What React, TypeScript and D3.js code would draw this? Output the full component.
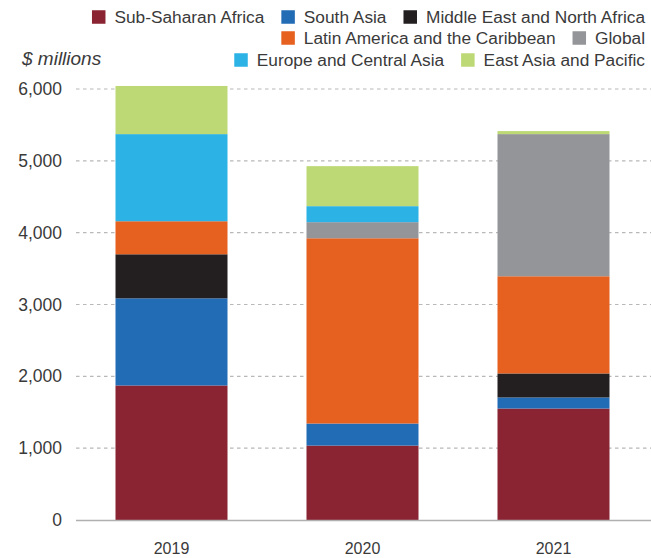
import React, { useEffect, useRef } from "react";
import * as d3 from "d3";

const years = ["2019", "2020", "2021"];
const regions = [
  "Sub-Saharan Africa",
  "South Asia",
  "Middle East and North Africa",
  "Latin America and the Caribbean",
  "Global",
  "Europe and Central Asia",
  "East Asia and Pacific",
];
const colors = ["#8A2332", "#226BB5", "#231F20", "#E66020", "#949598", "#2DB2E6", "#BDD975"];
const subSaharanAfrica = [1873, 1036, 1552];
const southAsia = [1213, 307, 154];
const middleEastNorthAfrica = [613, 0, 334];
const latinAmericaCaribbean = [460, 2579, 1353];
const global = [0, 224, 1979];
const europeCentralAsia = [1213, 223, 0];
const eastAsiaPacific = [670, 557, 42];
const yTicks = [0, 1000, 2000, 3000, 4000, 5000, 6000];
const legendRows = [[0, 1, 2], [3, 4], [5, 6]];
const yLabel = "$ millions";

export default function App() {
  const ref = useRef<SVGSVGElement>(null);
  useEffect(() => {
    document.body.style.margin = "0";
    const svg = d3.select(ref.current);
    svg.selectAll("*").remove();
    const W = 651;
    const font = "'Liberation Sans', Arial, Helvetica, sans-serif";
    const textColor = "#3a3a3a";
    const series = [subSaharanAfrica, southAsia, middleEastNorthAfrica, latinAmericaCaribbean, global, europeCentralAsia, eastAsiaPacific];
    const table = years.map((y, i) => {
      const row: any = { year: y };
      regions.forEach((r, k) => (row[r] = series[k][i]));
      return row;
    });
    const x = d3.scaleBand().domain(years).range([76, 649]).paddingInner(0.4136).paddingOuter(0.2068);
    const y = d3.scaleLinear().domain([0, 6000]).range([520, 89]);

    // grid
    const g = svg.append("g");
    g.selectAll("line.grid")
      .data(yTicks.filter((t) => t > 0))
      .join("line")
      .attr("x1", 76).attr("x2", W)
      .attr("y1", (d) => y(d)).attr("y2", (d) => y(d))
      .attr("stroke", "#b8b8b8").attr("stroke-width", 1.2)
      .attr("stroke-dasharray", "3.5,3.5");
    g.selectAll("text.tick")
      .data(yTicks)
      .join("text")
      .attr("x", 62).attr("y", (d) => y(d) + 6)
      .attr("text-anchor", "end")
      .attr("font-family", font).attr("font-size", 17.5).attr("fill", textColor)
      .text((d) => d3.format(",")(d));

    // bars
    const stack = d3.stack<any>().keys(regions)(table);
    svg.append("g").selectAll("g")
      .data(stack)
      .join("g")
      .attr("fill", (_d, i) => colors[i])
      .selectAll("rect")
      .data((d) => d)
      .join("rect")
      .attr("x", (d) => x(d.data.year)!)
      .attr("width", x.bandwidth())
      .attr("y", (d) => y(d[1]))
      .attr("height", (d) => Math.max(0, y(d[0]) - y(d[1])));

    // zero line
    svg.append("line")
      .attr("x1", 76).attr("x2", W).attr("y1", y(0) + 0.5).attr("y2", y(0) + 0.5)
      .attr("stroke", "#b0b0b0").attr("stroke-width", 1.5);

    // x labels
    svg.append("g").selectAll("text")
      .data(years)
      .join("text")
      .attr("x", (d) => x(d)! + x.bandwidth() / 2)
      .attr("y", 554)
      .attr("text-anchor", "middle")
      .attr("font-family", font).attr("font-size", 16).attr("fill", textColor)
      .text((d) => d);

    // y label
    svg.append("text")
      .attr("x", 22).attr("y", 65)
      .attr("font-family", font).attr("font-size", 19).attr("font-style", "italic").attr("fill", textColor)
      .text(yLabel);

    // legend (right aligned)
    const rowY = [17, 38, 60];
    const sq = 13.5, gapSqText = 9, gapItem = 17, right = 645;
    legendRows.forEach((row, ri) => {
      let cursor = right;
      [...row].reverse().forEach((k) => {
        const t = svg.append("text")
          .attr("font-family", font).attr("font-size", 17.3).attr("fill", textColor)
          .attr("y", rowY[ri] + 6)
          .text(regions[k]);
        const w = (t.node() as SVGTextElement).getComputedTextLength();
        const tx = cursor - w;
        t.attr("x", tx);
        svg.append("rect")
          .attr("x", tx - gapSqText - sq).attr("y", rowY[ri] - sq / 2)
          .attr("width", sq).attr("height", sq)
          .attr("fill", colors[k]);
        cursor = tx - gapSqText - sq - gapItem;
      });
    });
  }, []);
  return <svg ref={ref} width={651} height={558} style={{ display: "block" }} />;
}
